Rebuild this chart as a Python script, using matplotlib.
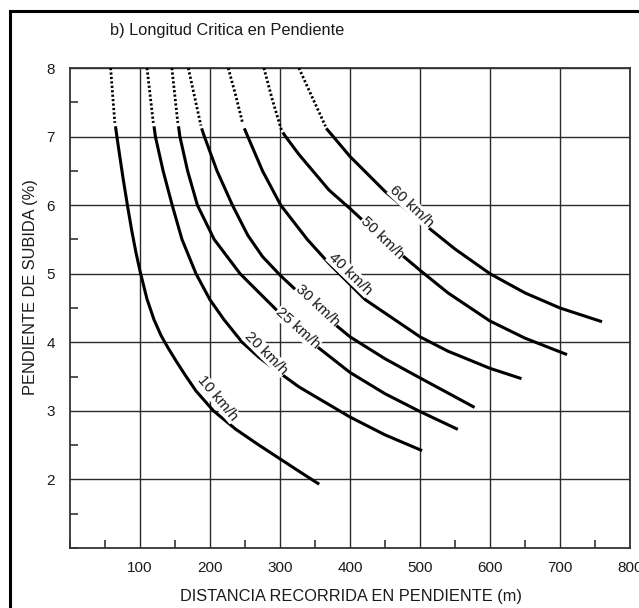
import matplotlib

matplotlib.use('Agg')
import matplotlib.pyplot as plt
from matplotlib.lines import Line2D
from matplotlib.ticker import MultipleLocator

plt.rcParams['font.family'] = ['Liberation Sans', 'DejaVu Sans']

# curve names
speeds = ['10 km/h', '20 km/h', '25 km/h', '30 km/h', '40 km/h', '50 km/h', '60 km/h']

# solid part of each curve (distance m, grade %)
x10 = [65, 67, 71, 76, 82, 88, 94, 100, 110, 120, 130, 140, 152, 164, 180, 205, 237, 270, 300, 330, 356]
y10 = [7.15, 7.0, 6.72, 6.38, 6.0, 5.64, 5.32, 5.04, 4.63, 4.33, 4.1, 3.92, 3.72, 3.53, 3.29, 3.0,
       2.73, 2.5, 2.3, 2.1, 1.93]
x20 = [120, 122, 133, 146, 160, 180, 200, 220, 246, 270, 300, 327, 400, 450, 503]
y20 = [7.15, 7.0, 6.5, 6.0, 5.5, 5.0, 4.62, 4.33, 4.0, 3.78, 3.55, 3.35, 2.91, 2.65, 2.42]
x25 = [155, 157, 168, 182, 206, 243, 300, 350, 400, 450, 500, 554]
y25 = [7.15, 7.0, 6.5, 6.0, 5.5, 5.0, 4.42, 3.96, 3.56, 3.25, 2.99, 2.73]
x30 = [188, 192, 210, 232, 254, 275, 300, 350, 400, 450, 500, 540, 578]
y30 = [7.12, 7.0, 6.5, 6.0, 5.56, 5.25, 4.98, 4.5, 4.08, 3.76, 3.48, 3.26, 3.05]
x40 = [249, 254, 275, 301, 339, 370, 422, 500, 540, 600, 645]
y40 = [7.12, 7.0, 6.5, 6.0, 5.5, 5.15, 4.62, 4.08, 3.87, 3.62, 3.47]
x50 = [304, 308, 327, 370, 400, 450, 500, 540, 600, 650, 710]
y50 = [7.06, 7.0, 6.74, 6.22, 5.95, 5.48, 5.05, 4.72, 4.31, 4.06, 3.82]
x60 = [366, 376, 400, 450, 500, 550, 600, 650, 700, 760]
y60 = [7.12, 7.0, 6.71, 6.2, 5.77, 5.36, 5.0, 4.72, 4.5, 4.30]

# dotted top part of each curve
dx10 = [58, 64]
dy10 = [8.0, 7.2]
dx20 = [110, 119]
dy20 = [8.0, 7.2]
dx25 = [145.5, 154]
dy25 = [8.0, 7.2]
dx30 = [169, 187]
dy30 = [8.0, 7.16]
dx40 = [226, 237, 246.5]
dy40 = [8.0, 7.59, 7.2]
dx50 = [277, 289, 302.5]
dy50 = [8.0, 7.54, 7.08]
dx60 = [327, 339, 365]
dy60 = [8.0, 7.73, 7.15]

solid = [(x10, y10), (x20, y20), (x25, y25), (x30, y30), (x40, y40), (x50, y50), (x60, y60)]
dotted = [(dx10, dy10), (dx20, dy20), (dx25, dy25), (dx30, dy30), (dx40, dy40), (dx50, dy50), (dx60, dy60)]

# where the speed labels sit, and their angle
label_pos = [(211, 3.18), (280, 3.84), (325, 4.2), (354, 4.54), (400, 5.0), (446, 5.52), (488, 5.98)]
label_rot = [-50, -45, -42, -43, -44, -44, -43]

fig = plt.figure(figsize=(6.39, 6.08), dpi=100)
ax = fig.add_axes([70 / 639, 60 / 608, 560 / 639, 480 / 608])

for (xs, ys), (dxs, dys) in zip(solid, dotted):
    ax.plot(xs, ys, color='black', lw=2.2, solid_capstyle='butt', solid_joinstyle='round', zorder=3)
    ax.plot(dxs, dys, color='black', lw=2.0, linestyle=(0, (0.8, 0.8)), zorder=3)

for name, (lx, ly), rot in zip(speeds, label_pos, label_rot):
    ax.text(lx, ly, name, rotation=rot, rotation_mode='anchor', ha='center', va='center',
            fontsize=11, color='#1a1a1a', zorder=4,
            bbox=dict(facecolor='white', edgecolor='none', pad=0.3))

ax.set_xlim(0, 800)
ax.set_ylim(1, 8)
ax.xaxis.set_minor_locator(MultipleLocator(50))
ax.yaxis.set_minor_locator(MultipleLocator(0.5))
ax.set_xticks(range(100, 900, 100))
ax.set_yticks(range(2, 9))
ax.tick_params(which='major', length=0, labelsize=11, colors='#1a1a1a')
ax.tick_params(axis='x', which='major', pad=9)
ax.tick_params(axis='y', which='major', pad=11)
ax.tick_params(which='minor', direction='in', length=6, width=1.1, color='#222222')
ax.grid(True, which='major', color='#2a2a2a', lw=1.0)
ax.set_axisbelow(True)
for s in ax.spines.values():
    s.set_color('#333333')
    s.set_linewidth(1.3)

ax.set_xlabel('DISTANCIA RECORRIDA EN PENDIENTE (m)', fontsize=11.8, color='#1a1a1a')
ax.xaxis.set_label_coords(0.502, -0.1)
ax.xaxis.label.set_va('center')
ax.set_ylabel('PENDIENTE DE SUBIDA (%)', fontsize=11.8, color='#1a1a1a')
ax.yaxis.set_label_coords(-0.071, 0.544)
ax.yaxis.label.set_va('center')

fig.text(110 / 639, 1 - 30 / 608, 'b) Longitud Critica en Pendiente', fontsize=11.8,
         ha='left', va='center', color='#1a1a1a')

# frame around the picture (cut on the right and at the bottom)
fig.add_artist(Line2D([9.5 / 639, 1.0], [1 - 11 / 608, 1 - 11 / 608], color='black', lw=2.2,
                      transform=fig.transFigure))
fig.add_artist(Line2D([9.5 / 639, 9.5 / 639], [0.0, 1 - 11 / 608], color='black', lw=2.2,
                      transform=fig.transFigure))

fig.savefig('out.png', dpi=100)
